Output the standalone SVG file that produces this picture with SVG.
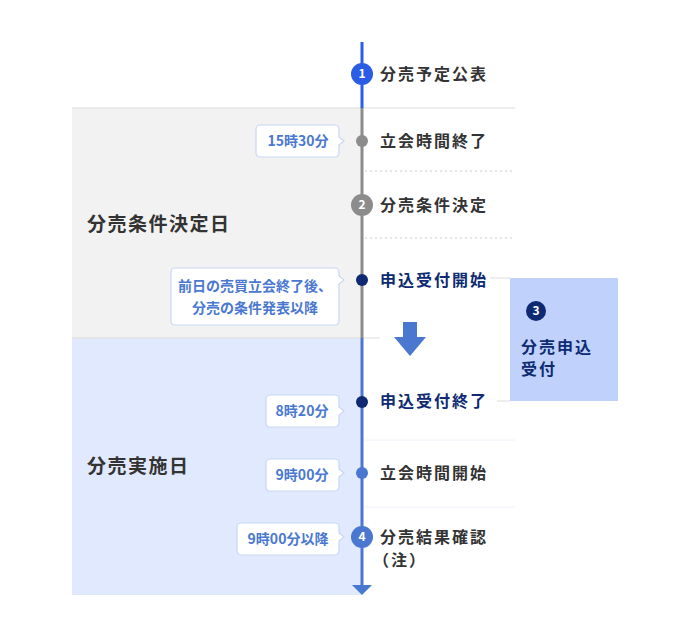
<svg xmlns="http://www.w3.org/2000/svg" width="690" height="639" viewBox="0 0 690 639">
<style>
text{font-family:"Noto Sans CJK JP","Noto Sans",sans-serif;font-weight:bold}
.lbl{font-size:16px;fill:#333;letter-spacing:2px}
.nv{fill:#0d2a73}
.tag{font-size:14px;fill:#4a78d0}
.box{fill:#fff;stroke:#c8d6f5;stroke-width:1.2}
.sep{stroke:#ccc;stroke-width:1;stroke-dasharray:2 3}
.num{font-size:12px;fill:#fff;text-anchor:middle}
</style>
<rect x="72" y="108" width="290" height="230" fill="#f2f2f2"/>
<rect x="72" y="338" width="290" height="257" fill="#e0e9fd"/>
<g id="connectors">
<line x1="72" y1="108" x2="515" y2="108" stroke="#ddd"/>
<line x1="72" y1="338" x2="380" y2="338" stroke="#ddd"/>
<line x1="365" y1="171" x2="512" y2="171" class="sep"/>
<line x1="365" y1="238" x2="512" y2="238" class="sep"/>
<line x1="365" y1="440" x2="515" y2="440" stroke="#eef2fb"/>
<line x1="365" y1="507" x2="515" y2="507" stroke="#eef2fb"/>
<line x1="490" y1="278" x2="510" y2="278" stroke="#ddd"/>
<line x1="497" y1="401" x2="510" y2="401" stroke="#ddd"/>
<line x1="362" y1="42" x2="362" y2="108" stroke="#2b5ce6" stroke-width="3"/>
<line x1="362" y1="108" x2="362" y2="338" stroke="#8c8c8c" stroke-width="3"/>
<line x1="362" y1="338" x2="362" y2="586" stroke="#4a78d0" stroke-width="3"/>
<polygon points="352,585 372,585 362,595" fill="#4a78d0"/>
<polygon points="403,322 417,322 417,337 426,337 410,356 394,337 403,337" fill="#4a78d0"/>
</g>
<text x="87" y="231" style="font-size:19px;fill:#333;letter-spacing:1.5px">分売条件決定日</text>
<text x="87" y="473" style="font-size:19px;fill:#333;letter-spacing:1.5px">分売実施日</text>
<g id="n1"><circle cx="362" cy="74" r="11" fill="#2b5ce6"/><text x="362" y="78" class="num">1</text><text x="380" y="80" class="lbl">分売予定公表</text></g>
<g id="n-end"><circle cx="362" cy="141" r="6" fill="#8c8c8c"/><text x="380" y="147" class="lbl">立会時間終了</text>
<path d="M260,125 H335 a4,4 0 0 1 4,4 V137 L344,141 L339,145 V153 a4,4 0 0 1 -4,4 H260 a4,4 0 0 1 -4,-4 V129 a4,4 0 0 1 4,-4Z" class="box"/><text x="298" y="146" class="tag" text-anchor="middle">15時30分</text></g>
<g id="n2"><circle cx="362" cy="205" r="11" fill="#8c8c8c"/><text x="362" y="209" class="num">2</text><text x="380" y="211" class="lbl">分売条件決定</text></g>
<g id="n-start"><circle cx="362" cy="280" r="6" fill="#0d2a73"/><text x="380" y="286" class="lbl nv">申込受付開始</text>
<path d="M175,268 H335 a4,4 0 0 1 4,4 V276 L344,280 L339,284 V321 a4,4 0 0 1 -4,4 H175 a4,4 0 0 1 -4,-4 V272 a4,4 0 0 1 4,-4Z" class="box"/><text x="255" y="291" class="tag" text-anchor="middle">前日の売買立会終了後、</text><text x="255" y="313" class="tag" text-anchor="middle">分売の条件発表以降</text></g>
<g id="n3"><rect x="510" y="278" width="108" height="123" fill="#c0d2fb"/><circle cx="536" cy="311" r="10" fill="#0d2a73"/><text x="536" y="315" class="num">3</text><text x="521" y="353" class="lbl nv">分売申込</text><text x="521" y="375" class="lbl nv">受付</text></g>
<g id="n-close"><circle cx="362" cy="402" r="6" fill="#0d2a73"/><text x="380" y="407" class="lbl nv">申込受付終了</text>
<path d="M270,395 H335 a4,4 0 0 1 4,4 V407 L344,411 L339,415 V423 a4,4 0 0 1 -4,4 H270 a4,4 0 0 1 -4,-4 V399 a4,4 0 0 1 4,-4Z" class="box"/><text x="302" y="416" class="tag" text-anchor="middle">8時20分</text></g>
<g id="n-open"><circle cx="362" cy="473" r="6" fill="#4a78d0"/><text x="380" y="479" class="lbl">立会時間開始</text>
<path d="M270,459 H335 a4,4 0 0 1 4,4 V469 L344,473 L339,477 V487 a4,4 0 0 1 -4,4 H270 a4,4 0 0 1 -4,-4 V463 a4,4 0 0 1 4,-4Z" class="box"/><text x="302" y="480" class="tag" text-anchor="middle">9時00分</text></g>
<g id="n4"><circle cx="362" cy="537" r="11" fill="#4a78d0"/><text x="362" y="541" class="num">4</text><text x="380" y="543" class="lbl">分売結果確認</text><text x="373" y="566" class="lbl">（注）</text>
<path d="M241,523 H335 a4,4 0 0 1 4,4 V533 L344,537 L339,541 V551 a4,4 0 0 1 -4,4 H241 a4,4 0 0 1 -4,-4 V527 a4,4 0 0 1 4,-4Z" class="box"/><text x="288" y="544" class="tag" text-anchor="middle">9時00分以降</text></g>
</svg>
